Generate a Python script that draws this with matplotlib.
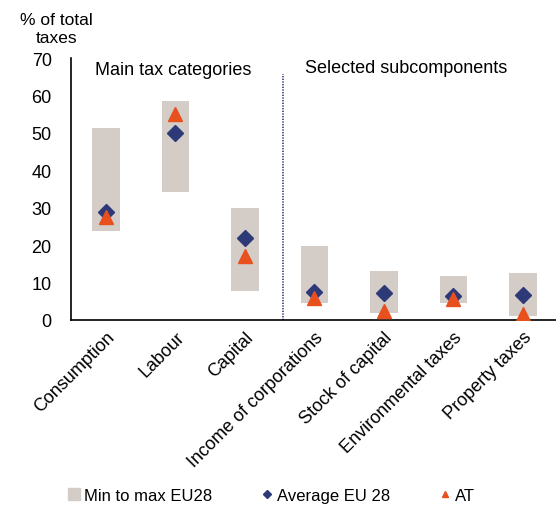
import matplotlib
matplotlib.use("Agg")
import matplotlib.pyplot as plt
from matplotlib.lines import Line2D

plt.rcParams['font.family'] = ['Liberation Sans', 'DejaVu Sans']

categories = ["Consumption", "Labour", "Capital", "Income of corporations",
              "Stock of capital", "Environmental taxes", "Property taxes"]
eu_min = [23.7, 34.1, 7.7, 4.5, 1.9, 4.5, 1.0]
eu_max = [51.3, 58.6, 29.9, 19.9, 13.2, 11.7, 12.6]
eu_avg = [28.8, 49.9, 21.8, 7.4, 7.2, 6.5, 6.7]
at_val = [27.5, 55.0, 17.0, 6.0, 2.5, 5.6, 1.5]
yticks = [0, 10, 20, 30, 40, 50, 60, 70]

bar_col = "#D3CCC7"
avg_col = "#2E3A78"
at_col = "#E8501E"

fig = plt.figure(figsize=(5.56, 5.10), dpi=100)
ax = fig.add_axes([0.128, 0.3706, 0.875, 0.5134])

x = list(range(len(categories)))
heights = [mx - mn for mn, mx in zip(eu_min, eu_max)]
ax.bar(x, heights, bottom=eu_min, width=0.4, color=bar_col, zorder=1)
ax.plot(x, eu_avg, linestyle="none", marker="D", ms=8, color=avg_col, zorder=3)
ax.plot(x, at_val, linestyle="none", marker="^", ms=10, color=at_col, zorder=4)

ax.plot([2.55, 2.55], [0, 65.8], linestyle=(0, (0.8, 0.8)), color=avg_col, lw=1.2, zorder=2)

ax.set_xlim(-0.5, 6.5)
ax.set_ylim(0, 70)
ax.set_yticks(yticks)
ax.set_yticklabels([str(v) for v in yticks], fontsize=13)
ax.set_xticks(x)
ax.set_xticklabels(categories, rotation=45, ha="right", rotation_mode="anchor", fontsize=13)
ax.tick_params(axis="both", length=0)
ax.tick_params(axis="y", pad=14)
ax.tick_params(axis="x", pad=6)
for s in ["top", "right"]:
    ax.spines[s].set_visible(False)
ax.spines["left"].set_linewidth(1.2)
ax.spines["bottom"].set_linewidth(1.2)

ax.text(-0.15, 67, "Main tax categories", fontsize=13, va="center", ha="left")
ax.text(2.87, 67.6, "Selected subcomponents", fontsize=13, va="center", ha="left")

fig.text(0.101, 0.943, "% of total\ntaxes", fontsize=12.5, ha="center", va="center", linespacing=1.25)

handles = [
    Line2D([], [], linestyle="none", marker="s", ms=9, color=bar_col),
    Line2D([], [], linestyle="none", marker="D", ms=4, color=avg_col),
    Line2D([], [], linestyle="none", marker="^", ms=5, color=at_col),
]
labels = ["Min to max EU28", "Average EU 28", "AT"]
fig.legend(handles, labels, loc="center", bbox_to_anchor=(0.489, 0.026), ncol=3,
           frameon=False, fontsize=12, handlelength=0.6, handletextpad=0.3,
           columnspacing=3.0)

fig.savefig("out.png", dpi=100)
